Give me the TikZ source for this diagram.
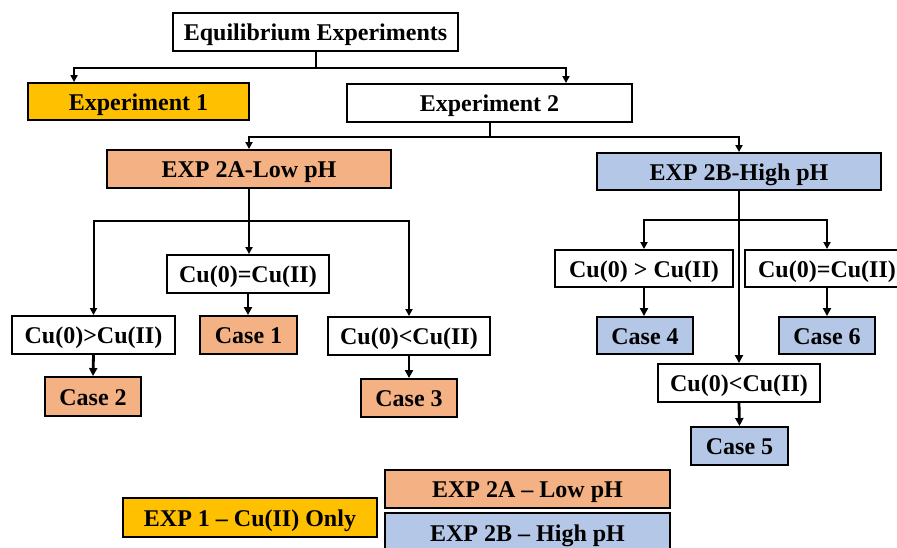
\documentclass[tikz,border=0pt]{standalone}
\usepackage{fontspec}
\setmainfont{Liberation Serif}
\usetikzlibrary{arrows.meta}
\definecolor{gold}{HTML}{FFC000}
\definecolor{salmon}{HTML}{F4B183}
\definecolor{lblue}{HTML}{B4C7E7}
\tikzset{
  boxbase/.style={draw=black, line width=1.9pt, inner sep=0pt, align=center,
    text height=17pt, text depth=0pt,
    font=\fontsize{24}{28}\selectfont\bfseries},
  wbox/.style={boxbase, fill=white},
  gbox/.style={boxbase, fill=gold},
  sbox/.style={boxbase, fill=salmon},
  bbox/.style={boxbase, fill=lblue},
  link/.style={draw=black, line width=2pt},
  arr/.style={link, -{Triangle[length=7pt,width=7pt]}},
  thickarr/.style={draw=black, line width=2.8pt, -{Triangle[length=8pt,width=8pt]}},
}
\newcommand{\bx}[7]{%
  \node[#6, minimum width={(#4-#2)*1pt}, minimum height={(#5-#3)*1pt}]
    (#1) at ({(#2+#4)/2},{(#3+#5)/2}) {#7};}
\begin{document}
\begin{tikzpicture}[x=1pt,y=-1pt]
\useasboundingbox (0,0) rectangle (897,547);
\clip (0,0) rectangle (897,547);
% main tree
\bx{eq}{173}{13}{458}{51}{wbox}{Equilibrium Experiments}
\bx{e1}{28}{83}{249}{120}{gbox}{Experiment 1}
\bx{e2}{347}{84}{632}{122}{wbox}{Experiment 2}
\bx{a2}{107}{150}{391}{188}{sbox}{EXP 2A-Low pH}
\bx{b2}{597}{153}{881}{190}{bbox}{EXP 2B-High pH}
% low pH branch
\bx{ceqA}{167}{255}{329}{293}{wbox}{Cu(0)=Cu(II)}
\bx{c1}{200}{316}{297}{354}{sbox}{Case 1}
\bx{cgtA}{12}{316}{175}{354}{wbox}{Cu(0)>Cu(II)}
\bx{c2}{45}{377}{141}{416}{sbox}{Case 2}
\bx{cltA}{328}{317}{490}{355}{wbox}{Cu(0)<Cu(II)}
\bx{c3}{361}{379}{457}{417}{sbox}{Case 3}
% high pH branch
\bx{cgtB}{555}{250}{733}{287}{wbox}{Cu(0) > Cu(II)}
\bx{c4}{597}{317}{693}{354}{bbox}{Case 4}
\bx{ceqB}{745}{250}{909}{287}{wbox}{Cu(0)=Cu(II)}
\bx{c6}{779}{317}{875}{354}{bbox}{Case 6}
\bx{cltB}{658}{364}{820}{402}{wbox}{Cu(0)<Cu(II)}
\bx{c5}{691}{427}{788}{465}{bbox}{Case 5}
% legend
\bx{leg1}{123}{498}{377}{537}{gbox}{EXP 1 – Cu(II) Only}
\bx{leg2a}{385}{470}{670}{508}{sbox}{EXP 2A – Low pH}
\bx{leg2b}{385}{513}{670}{553}{bbox}{EXP 2B – High pH}
% connectors
\coordinate (j1) at (315.5,68);
\draw[link] (eq.south) -- (j1);
\draw[arr] (j1) -| ([xshift=47pt]e1.north west);
\draw[arr] (j1) -| ([xshift=76.5pt]e2.north);
\coordinate (j2) at (489.5,137);
\draw[link] (e2.south) -- (j2);
\draw[arr] (j2) -| (a2.north);
\draw[arr] (j2) -| (b2.north);
\coordinate (j3) at (249,221);
\draw[link] (a2.south) -- (j3);
\draw[arr] (j3) -| (cgtA.north);
\draw[arr] (j3) -| (cltA.north);
\draw[arr] (j3) -- (j3 |- ceqA.north);
\draw[thickarr] (cgtA.south) -- (c2.north);
\draw[thickarr] (ceqA.south) -- (ceqA.south |- c1.north);
\draw[thickarr] (cltA.south) -- (c3.north);
\coordinate (j4) at (739,220);
\draw[thickarr] (b2.south) -- (cltB.north);
\draw[arr] (j4) -| (cgtB.north);
\draw[arr] (j4) -| (ceqB.north);
\draw[thickarr] (cgtB.south) -- (cgtB.south |- c4.north);
\draw[thickarr] (ceqB.south) -- (c6.north);
\draw[thickarr] (cltB.south) -- (c5.north);
\end{tikzpicture}
\end{document}
